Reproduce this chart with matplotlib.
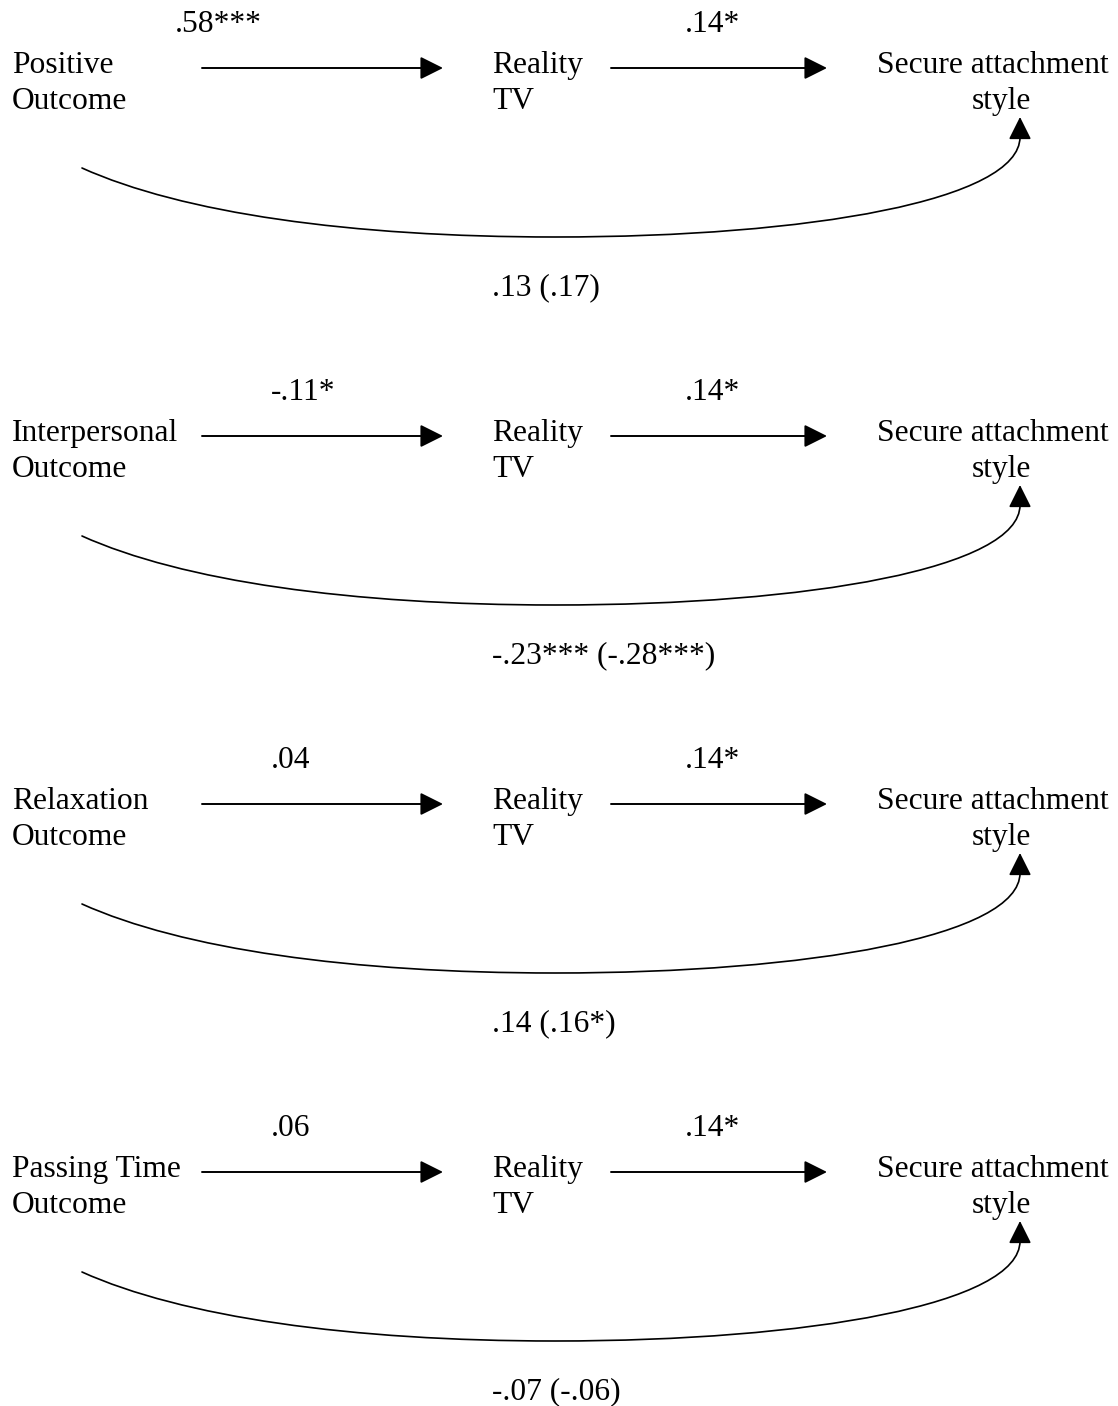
import matplotlib
matplotlib.use("Agg")
import matplotlib.pyplot as plt
from matplotlib.patches import FancyArrowPatch
from matplotlib.path import Path

# predictors (two lines each) and path coefficients
predictors = [("Positive", "Outcome"),
              ("Interpersonal", "Outcome"),
              ("Relaxation", "Outcome"),
              ("Passing Time", "Outcome")]
a_paths = [".58***", "-.11*", ".04", ".06"]
b_paths = [".14*", ".14*", ".14*", ".14*"]
c_paths = [".13 (.17)", "-.23*** (-.28***)", ".14 (.16*)", "-.07 (-.06)"]
mediator = ("Reality", "TV")
outcome = ("Secure attachment", "style")

# layout (pixels)
a_label_x = [175, 271, 271, 271]
panel_step = 368
fs = 22.7

plt.rcParams['font.family'] = ['Liberation Serif', 'DejaVu Serif']

fig = plt.figure(figsize=(11.18, 14.06), dpi=100)
ax = fig.add_axes([0, 0, 1, 1])
ax.set_xlim(0, 1118)
ax.set_ylim(1406, 0)
ax.axis('off')

arrow_style = '-|>,head_length=14,head_width=7'

def straight_arrow(x0, x1, y):
    p = FancyArrowPatch((x0, y), (x1, y), arrowstyle=arrow_style,
                        mutation_scale=1, lw=1.4, color='black',
                        shrinkA=0, shrinkB=0)
    ax.add_patch(p)

for i in range(len(predictors)):
    oy = i * panel_step
    # node labels
    ax.text(12, oy + 73, predictors[i][0], fontsize=fs, va='baseline', ha='left')
    ax.text(12, oy + 109, predictors[i][1], fontsize=fs, va='baseline', ha='left')
    ax.text(492, oy + 73, mediator[0], fontsize=fs, va='baseline', ha='left')
    ax.text(492, oy + 109, mediator[1], fontsize=fs, va='baseline', ha='left')
    ax.text(1109, oy + 73, outcome[0], fontsize=fs, va='baseline', ha='right')
    ax.text(1001, oy + 109, outcome[1], fontsize=fs, va='baseline', ha='center')

    # coefficients
    ax.text(a_label_x[i], oy + 32, a_paths[i], fontsize=fs, va='baseline', ha='left')
    ax.text(685, oy + 32, b_paths[i], fontsize=fs, va='baseline', ha='left')
    ax.text(492, oy + 295, c_paths[i], fontsize=fs, va='baseline', ha='left')

    # straight arrows
    straight_arrow(202, 443, oy + 68)
    straight_arrow(611, 827, oy + 68)

    # curved direct path
    verts = [(82, oy + 168),
             (182, oy + 213), (350, oy + 237), (555, oy + 237),
             (810, oy + 237), (1020, oy + 200), (1020, oy + 137),
             (1020, oy + 117)]
    codes = [Path.MOVETO,
             Path.CURVE4, Path.CURVE4, Path.CURVE4,
             Path.CURVE4, Path.CURVE4, Path.CURVE4,
             Path.LINETO]
    curve = FancyArrowPatch(path=Path(verts, codes), arrowstyle=arrow_style,
                            mutation_scale=1, lw=1.2, color='black')
    ax.add_patch(curve)

fig.savefig('out.png', dpi=100, facecolor='white')
